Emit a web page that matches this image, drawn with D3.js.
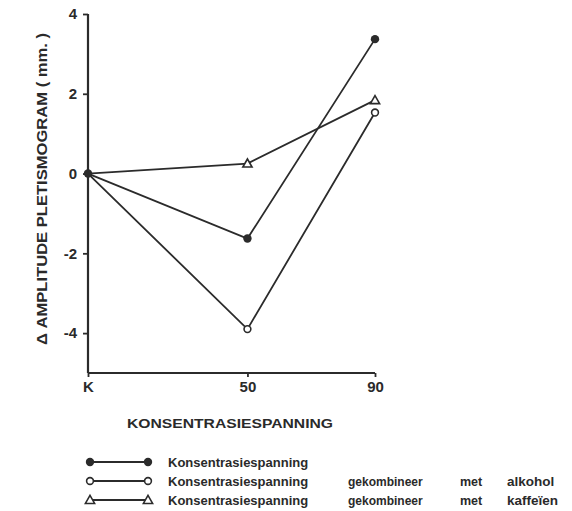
<!DOCTYPE html>
<html>
<head>
<meta charset="utf-8">
<script src="https://cdn.jsdelivr.net/npm/d3@7/dist/d3.min.js"></script>
<style>
  html, body { margin: 0; padding: 0; background: #fff; }
  svg { display: block; }
  text { font-family: "Liberation Sans", "DejaVu Sans", sans-serif; font-weight: bold; fill: #2a2a2a; }
</style>
</head>
<body>
<svg id="chart" width="572" height="511"></svg>
<script>
// Concentration levels (K = control) and the change in plethysmogram amplitude
const concentrations = [0, 50, 90];
const tickLabels = ["K", "50", "90"];
const yTicks = [-4, -2, 0, 2, 4];
const seriesNames = [
  ["Konsentrasiespanning"],
  ["Konsentrasiespanning", "gekombineer", "met", "alkohol"],
  ["Konsentrasiespanning", "gekombineer", "met", "kaffeïen"]
];
const concentrationOnly = [0, -1.63, 3.37];
const withAlcohol = [0, -3.9, 1.53];
const withCaffeine = [0, 0.25, 1.84];

const ink = "#2b2b2b";
const svg = d3.select("#chart");

const x = d3.scaleLinear().domain([0, 90]).range([88, 375]);
const y = d3.scaleLinear().domain([-5, 4]).range([373, 14]);

// Axes
const yAxis = d3.axisLeft(y).tickValues(yTicks).tickSize(5).tickFormat(d => String(d));
const gy = svg.append("g").attr("transform", `translate(${x(0)},0)`).call(yAxis);
const xAxis = d3.axisBottom(x).tickValues(concentrations).tickSize(4)
  .tickFormat((d, i) => tickLabels[i]);
const gx = svg.append("g").attr("transform", `translate(0,${y(-5)})`).call(xAxis);

[gy, gx].forEach(g => {
  g.select(".domain").attr("stroke", ink).attr("stroke-width", 2.2);
  g.selectAll(".tick line").attr("stroke", ink).attr("stroke-width", 1.8);
  g.selectAll(".tick text").attr("fill", ink).style("font-size", "15px")
    .style("font-weight", "bold").style("font-family", "Liberation Sans, sans-serif");
});
gy.select(".domain").attr("d", `M0,${y(4)}V${y(-5)}`);
gx.select(".domain").attr("d", `M${x(0)},0H${x(90)}`);
gy.selectAll(".tick text").attr("x", -11);
gx.selectAll(".tick text").attr("y", 8);

// Axis titles
svg.append("text")
  .attr("transform", `translate(47,${(345 + 33) / 2}) rotate(-90)`)
  .attr("text-anchor", "middle")
  .attr("textLength", 312).attr("lengthAdjust", "spacingAndGlyphs")
  .style("font-size", "14px")
  .text("\u0394 AMPLITUDE  PLETISMOGRAM ( mm. )");

svg.append("text")
  .attr("x", 127).attr("y", 428)
  .attr("textLength", 206).attr("lengthAdjust", "spacingAndGlyphs")
  .style("font-size", "13.5px")
  .text("KONSENTRASIESPANNING");

// Series
const line = d3.line().x((d, i) => x(concentrations[i])).y(d => y(d));
const series = [
  { values: withCaffeine, marker: "triangle" },
  { values: concentrationOnly, marker: "filled" },
  { values: withAlcohol, marker: "open" }
];

function drawMarker(g, type, cx, cy) {
  if (type === "filled") {
    g.append("circle").attr("cx", cx).attr("cy", cy).attr("r", 4.2).attr("fill", ink);
  } else if (type === "open") {
    g.append("circle").attr("cx", cx).attr("cy", cy).attr("r", 3.4)
      .attr("fill", "#fff").attr("stroke", ink).attr("stroke-width", 1.6);
  } else {
    const s = 4.6;
    g.append("path")
      .attr("d", `M${cx},${cy - s}L${cx + s},${cy + s * 0.75}L${cx - s},${cy + s * 0.75}Z`)
      .attr("fill", "#fff").attr("stroke", ink).attr("stroke-width", 1.6);
  }
}

series.forEach(s => {
  svg.append("path").datum(s.values).attr("d", line)
    .attr("fill", "none").attr("stroke", ink).attr("stroke-width", 1.8);
});
series.forEach(s => {
  const g = svg.append("g");
  s.values.forEach((v, i) => {
    if (i === 0) return;
    drawMarker(g, s.marker, x(concentrations[i]), y(v));
  });
});
// shared origin point
svg.append("circle").attr("cx", x(0)).attr("cy", y(0)).attr("r", 4.2).attr("fill", ink);

// Legend
const legendRows = [462, 481, 500];
const legendMarkers = ["filled", "open", "triangle"];
const wordX = [168, 348, 460, 507];
const wordSize = ["13px", "12px", "12.5px", "13.5px"];
legendRows.forEach((ly, r) => {
  const g = svg.append("g");
  g.append("line").attr("x1", 90).attr("x2", 148).attr("y1", ly).attr("y2", ly)
    .attr("stroke", ink).attr("stroke-width", 1.8);
  drawMarker(g, legendMarkers[r], 90, ly);
  drawMarker(g, legendMarkers[r], 148, ly);
  seriesNames[r].forEach((w, k) => {
    g.append("text").attr("x", wordX[k]).attr("y", ly + 5)
      .style("font-size", wordSize[k]).text(w);
  });
});
</script>
</body>
</html>
